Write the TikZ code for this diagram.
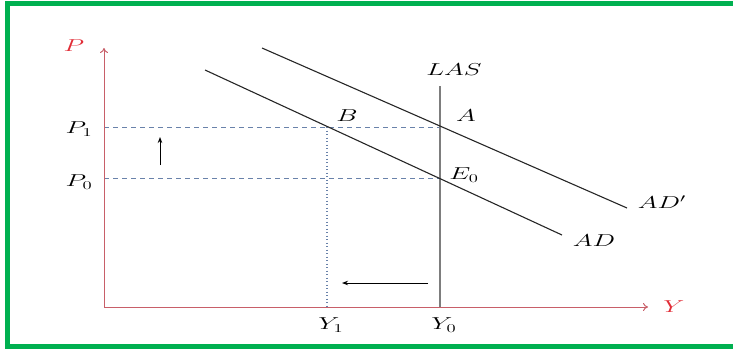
\documentclass[tikz,border=0pt]{standalone}
\usepackage{graphicx}
\usetikzlibrary{arrows.meta}
\definecolor{frameGreen}{RGB}{0,176,80}
\definecolor{axisRed}{RGB}{200,95,105}
\definecolor{labelRed}{RGB}{225,45,55}
\definecolor{guideBlue}{RGB}{105,130,170}
\definecolor{lasGray}{RGB}{125,125,125}
\newcommand{\wlab}[1]{\scalebox{1.55}[1]{$#1$}}
\tikzset{
  lbl/.style={inner sep=0pt, font=\fontsize{16.5}{18}\selectfont},
  axislbl/.style={lbl, text=labelRed},
  axisline/.style={draw=axisRed, line width=1pt, -{To[length=5pt,width=8pt]}},
  curve/.style={draw=black!85, line width=1.1pt},
  guide/.style={draw=guideBlue, line width=0.8pt, dash pattern=on 5pt off 4pt},
  guidedot/.style={draw=guideBlue, line width=1.1pt, dash pattern=on 1.3pt off 2.2pt},
  shiftarrow/.style={draw=black, line width=0.9pt, -{Stealth[length=6pt,width=4.5pt]}}
}
\begin{document}
\begin{tikzpicture}[x=1pt,y=-1pt]
\useasboundingbox (0,0) rectangle (733,349);
\begin{scope}
\clip (0,0) rectangle (733,349);
\draw[frameGreen, line width=4.5pt] (7.5,3.5) rectangle (760,346.5);
\end{scope}
% coordinates
\coordinate (O) at (104,307);
\coordinate (ytop) at (104,48);
\coordinate (xend) at (648,307);
\coordinate (p1) at (104,127);
\coordinate (p0) at (104,178);
\coordinate (A) at (440,127);
\coordinate (E) at (440,178);
\coordinate (B) at (327,127);
\coordinate (y1) at (327,307);
\coordinate (lastop) at (440,86);
\coordinate (y0) at (440,307);
\coordinate (adpa) at (262,48);
\coordinate (adpb) at (627,208);
\coordinate (ada) at (205,70);
\coordinate (adb) at (562,235);
\coordinate (upa) at (160,165);
\coordinate (upb) at (160,137);
\coordinate (lfa) at (428,283);
\coordinate (lfb) at (342,283);
% guides
\draw[guide] (p1) -- (A);
\draw[guide] (p0) -- (E);
\draw[guidedot] (B) -- (y1);
% LAS
\draw[draw=lasGray, line width=2.6pt] (lastop) -- (y0);
% AD curves
\draw[curve] (adpa) -- (adpb);
\draw[curve] (ada) -- (adb);
% axes
\draw[axisline] (O) -- (ytop);
\draw[axisline] (O) -- (xend);
% shift arrows
\draw[shiftarrow] (upa) -- (upb);
\draw[shiftarrow] (lfa) -- (lfb);
% labels
\node[axislbl] (Plbl) at (74,46) {\wlab{P}};
\node[axislbl] (Ylbl) at (674,307) {\wlab{Y}};
\node[lbl] (P1lbl) at (79,129) {\wlab{P_1}};
\node[lbl] (P0lbl) at (79,182) {\wlab{P_0}};
\node[lbl] (LASlbl) at (454,70) {\wlab{LAS}};
\node[lbl] (Blbl) at (347,116) {\wlab{B}};
\node[lbl] (Albl) at (466,116) {\wlab{A}};
\node[lbl] (Elbl) at (464,175) {\wlab{E_0}};
\node[lbl] (ADplbl) at (662,202) {\wlab{AD'}};
\node[lbl] (ADlbl) at (594,241) {\wlab{AD}};
\node[lbl] (Y1lbl) at (331,325) {\wlab{Y_1}};
\node[lbl] (Y0lbl) at (444,325) {\wlab{Y_0}};
\end{tikzpicture}
\end{document}
